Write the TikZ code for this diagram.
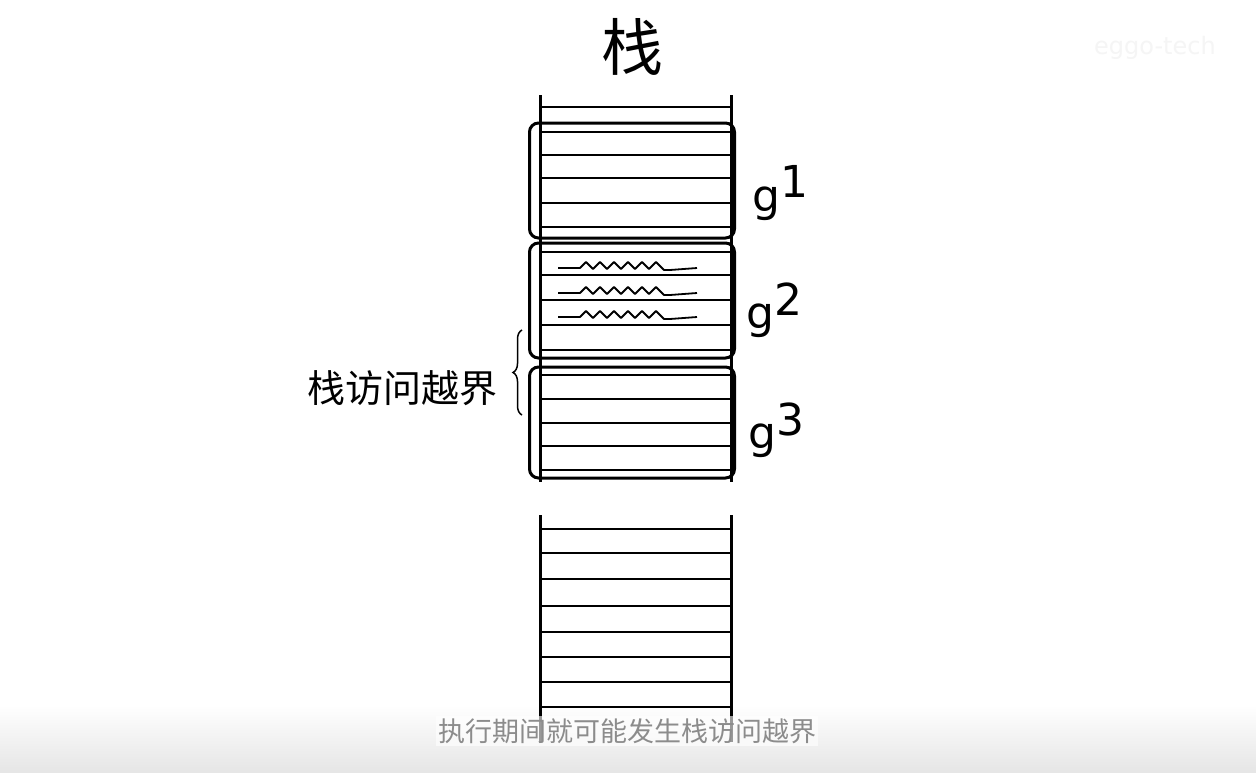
\documentclass[tikz,border=0pt]{standalone}
\usepackage{fontspec}
\setmainfont{DejaVu Sans}
\newfontfamily\cjk{Noto Sans CJK SC}
\usetikzlibrary{decorations.pathreplacing,calc}
\begin{document}
\begin{tikzpicture}[x=1pt,y=-1pt,
  stackline/.style={line width=3pt,black},
  rowline/.style={line width=2.8pt,black},
  gbox/.style={draw,line width=3pt,rounded corners=9pt,minimum width=205pt,inner sep=0pt},
  glabel/.style={font=\fontsize{44}{44}\selectfont,inner sep=0pt},
  squig/.style={line width=1.8pt,line join=round},
  subtxt/.style={font=\cjk\fontsize{27}{27}\selectfont,inner sep=0pt},
]
\useasboundingbox (0,0) rectangle (1256,772);
\fill[white] (0,0) rectangle (1256,772);
\shade[top color=white,bottom color=black!10] (0,705) rectangle (1256,772);

% title
\node[font=\cjk\fontsize{62}{62}\selectfont,inner sep=0pt] (title) at (632,47) {栈};
% watermark
\node[font=\fontsize{24}{24}\selectfont,text=black!4,inner sep=0pt] (wm) at (1155,48) {eggo-tech};

% upper stack segment
\coordinate (ul) at (540,95); \coordinate (ulb) at (540,482);
\coordinate (ur) at (731,95); \coordinate (urb) at (731,482);
\draw[stackline] (ul) -- (ulb);
\draw[stackline] (ur) -- (urb);
\foreach \y in {107,132,155,178,203,227,252,275,300,325,350,375,399,423,446,470}
  \draw[rowline] (540,\y) -- (731,\y);

% lower stack segment
\coordinate (ll) at (540,515); \coordinate (llb) at (540,742);
\coordinate (lr) at (731,515); \coordinate (lrb) at (731,742);
\draw[stackline] (ll) -- (llb);
\draw[stackline] (lr) -- (lrb);
\foreach \y in {529,553,579,606,632,657,682,707}
  \draw[rowline] (540,\y) -- (731,\y);

% goroutine boxes
\node[gbox,minimum height=115pt] (g1) at (632,180.5) {};
\node[gbox,minimum height=115pt] (g2) at (632,300.5) {};
\node[gbox,minimum height=111pt] (g3) at (632,422.5) {};

% labels
\node[glabel,anchor=west] (l1) at (752,193) {g\raisebox{0.3em}{1}};
\node[glabel,anchor=west] (l2) at (746,310) {g\raisebox{0.3em}{2}};
\node[glabel,anchor=west] (l3) at (748,430) {g\raisebox{0.3em}{3}};

% squiggles in g2
\foreach \y in {267,292,316}{
  \draw[squig] (558,\y+1) -- (580,\y+1) -- (586,\y-5) -- (593,\y+2) -- (600,\y-5) -- (607,\y+2) -- (614,\y-5) -- (621,\y+2) -- (628,\y-5) -- (635,\y+2) -- (642,\y-5) -- (649,\y+2) -- (656,\y-5) -- (664,\y+3) -- (670,\y+3) -- (697,\y+1);
}

% brace and label
\coordinate (bt) at (522,330);
\coordinate (bb) at (522,415);
\draw[line width=1.5pt,decorate,decoration={brace,amplitude=9pt}] (bb) -- (bt);
\node[font=\cjk\fontsize{38}{38}\selectfont,inner sep=0pt,anchor=east] (oob) at (498,388) {栈访问越界};

% subtitle
\node[subtxt,text=black!45,fill=white,fill opacity=0.6,text opacity=1,inner sep=2pt] (sub) at (627,731) {执行期间就可能发生栈访问越界};
\end{tikzpicture}
\end{document}
